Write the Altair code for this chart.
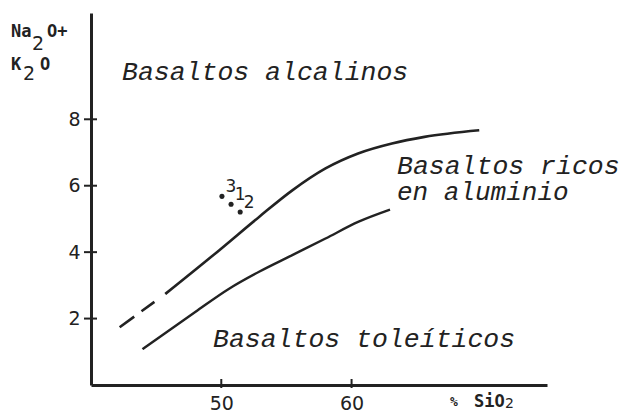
import altair as alt
import pandas as pd

# ---- data ----
dash_x = [42.2, 45.7]
dash_y = [1.74, 2.74]
upper_x = [45.7, 49.85, 52.9, 55.45, 58.0, 60.5, 63.1, 65.6, 69.8]
upper_y = [2.74, 4.06, 5.06, 5.86, 6.52, 6.97, 7.27, 7.47, 7.67]
lower_x = [43.95, 48.0, 50.6, 52.9, 55.45, 58.0, 60.5, 62.95]
lower_y = [1.08, 2.2, 2.9, 3.41, 3.91, 4.41, 4.91, 5.28]
sample_x = [50.05, 50.75, 51.45]
sample_y = [5.68, 5.44, 5.21]
sample_labels = ["3", "1", "2"]
x_ticks = [50, 60]
y_ticks = [2, 4, 6, 8]

INK = "#222222"
xs = alt.Scale(domain=[40, 75], nice=False, zero=False)
ys = alt.Scale(domain=[0, 11.2], nice=False, zero=False)
axis_common = dict(title=None, ticks=False, tickSize=0, grid=False, domainWidth=3,
                   domainColor=INK, labelFont="DejaVu Sans", labelFontSize=19,
                   labelColor=INK, format="d")
xaxis = alt.Axis(values=x_ticks, labelPadding=9, **axis_common)
yaxis = alt.Axis(values=y_ticks, labelPadding=11, **axis_common)


def X(f):
    return alt.X(f, type="quantitative", scale=xs, axis=xaxis)


def Y(f):
    return alt.Y(f, type="quantitative", scale=ys, axis=yaxis)


dash_df = pd.DataFrame({"x": dash_x, "y": dash_y})
upper_df = pd.DataFrame({"x": upper_x, "y": upper_y})
lower_df = pd.DataFrame({"x": lower_x, "y": lower_y})
pts_df = pd.DataFrame({"x": sample_x, "y": sample_y, "lab": sample_labels})

dashed = alt.Chart(dash_df).mark_line(color=INK, strokeWidth=2.6,
                                      strokeDash=[18, 9, 16, 24]).encode(x=X("x"), y=Y("y"))
upper = alt.Chart(upper_df).mark_line(color=INK, strokeWidth=2.6, interpolate="monotone").encode(
    x=X("x"), y=Y("y"))
lower = alt.Chart(lower_df).mark_line(color=INK, strokeWidth=2.4, interpolate="monotone").encode(
    x=X("x"), y=Y("y"))
pts = alt.Chart(pts_df).mark_circle(color=INK, size=26, opacity=1).encode(x=X("x"), y=Y("y"))
pt_labels = alt.Chart(pts_df).mark_text(font="DejaVu Sans", fontSize=17, color=INK,
                                         dx=9, dy=-9).encode(x=X("x"), y=Y("y"), text="lab:N")

xtick = alt.Chart(pd.DataFrame({"v": x_ticks})).mark_rule(color=INK, strokeWidth=2).encode(
    x=X("v"), y=alt.value(366), y2=alt.value(375))
ytick = alt.Chart(pd.DataFrame({"v": y_ticks})).mark_rule(color=INK, strokeWidth=2).encode(
    y=Y("v"), x=alt.value(-7), x2=alt.value(6))

one = pd.DataFrame({"a": [0]})


def label(text, x, y, font="Liberation Mono", size=26.5, italic=True, weight="normal"):
    return alt.Chart(one).mark_text(
        text=text, font=font, fontSize=size, fontStyle="italic" if italic else "normal",
        fontWeight=weight, align="left", baseline="alphabetic", color=INK
    ).encode(x=alt.value(x), y=alt.value(y))


texts = [
    label("Basaltos alcalinos", 31, 67),
    label("Basaltos ricos", 306, 161),
    label("en aluminio", 306, 187, size=26),
    label("Basaltos toleíticos", 122, 334),
    # y title  Na2O+ / K2O
    label("Na", -80, 24, font="DejaVu Sans Mono", size=17, italic=False, weight="bold"),
    label("2", -59, 37, font="DejaVu Sans", size=19, italic=False),
    label("O+", -44, 24, font="DejaVu Sans Mono", size=17, italic=False, weight="bold"),
    label("K", -80, 57, font="DejaVu Sans Mono", size=17, italic=False, weight="bold"),
    label("2", -68, 67, font="DejaVu Sans", size=19, italic=False),
    label("O", -51, 57, font="DejaVu Sans Mono", size=17, italic=False, weight="bold"),
    # x title  % SiO2
    label("%", 359, 393, font="DejaVu Sans Mono", size=13, italic=False, weight="bold"),
    label("SiO", 383, 394, font="DejaVu Sans Mono", size=17, italic=False, weight="bold"),
    label("2", 414, 395, font="DejaVu Sans", size=14, italic=False),
]

chart = alt.layer(upper, dashed, lower, xtick, ytick, pts, pt_labels, *texts).properties(
    width=456, height=372,
    autosize=alt.AutoSizeParams(type="none"),
    padding={"left": 83, "top": 5, "right": 73, "bottom": 27},
    background="white",
).configure_view(stroke=None)

chart.save("out.html", embed_options={"renderer": "svg", "actions": False})
